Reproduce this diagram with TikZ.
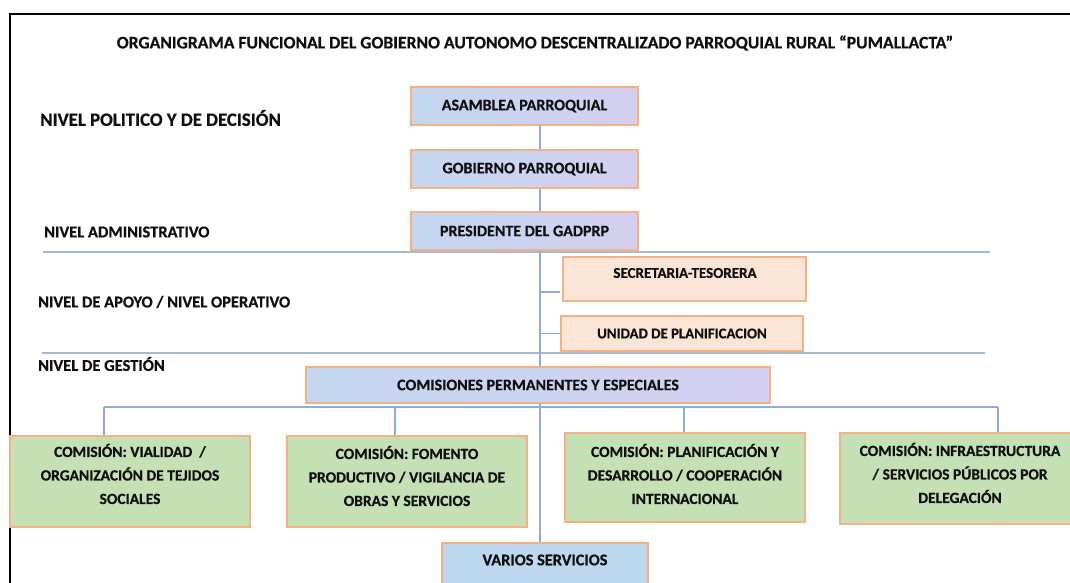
\documentclass[tikz,border=0pt]{standalone}
\usepackage{fontspec}
\setmainfont{Carlito}[BoldFeatures={FakeBold=0.6}]
\usetikzlibrary{calc}
\definecolor{bord}{RGB}{244,177,131}
\definecolor{blueA}{RGB}{196,214,240}
\definecolor{blueB}{RGB}{214,208,240}
\definecolor{peach}{RGB}{251,229,214}
\definecolor{greenF}{RGB}{197,224,180}
\definecolor{blueV}{RGB}{189,215,238}
\definecolor{connC}{RGB}{143,170,220}
\definecolor{sepC}{RGB}{165,185,215}
\definecolor{ink}{RGB}{15,15,15}
\tikzset{
  boxbase/.style={draw=bord, line width=1.8, inner sep=0pt, align=center, text=ink},
  bluebox/.style={boxbase, left color=blueA, right color=blueB, middle color=blueA!60!blueB},
  peachbox/.style={boxbase, fill=peach},
  greenbox/.style={boxbase, fill=greenF, minimum width=240, minimum height=91},
  varbox/.style={boxbase, fill=blueV},
  boxtext/.style={inner sep=0pt, align=center, text=ink},
  gtext/.style={boxtext, font=\bfseries\fontsize{15.5}{23.5}\selectfont},
  conn/.style={draw=connC, line width=1.2},
  sepline/.style={draw=sepC, line width=1.2},
  lvl/.style={anchor=west, inner sep=0pt, text=ink, font=\bfseries\fontsize{16.5}{19}\selectfont},
}
\begin{document}
\begin{tikzpicture}[x=1pt,y=-1pt,font=\bfseries\fontsize{16}{19}\selectfont]
\useasboundingbox (0,0) rectangle (1070,583);
\begin{scope}
\clip (0,0) rectangle (1070,583);
% frame
\draw[line width=2] (9.5,590) -- (9.5,14) -- (1080,14);

% title
\node[inner sep=0pt, text=ink, font=\bfseries\fontsize{17.6}{20}\selectfont] (title) at (535,43)
  {ORGANIGRAMA FUNCIONAL DEL GOBIERNO AUTONOMO DESCENTRALIZADO PARROQUIAL RURAL “PUMALLACTA”};

% level labels
\node[lvl, font=\bfseries\fontsize{18.8}{22}\selectfont] (l1) at (40,118) {NIVEL POLITICO Y DE DECISIÓN};
\node[lvl] (l2) at (44,232) {NIVEL ADMINISTRATIVO};
\node[lvl] (l3) at (38,302) {NIVEL DE APOYO / NIVEL OPERATIVO};
\node[lvl] (l4) at (38,364) {NIVEL DE GESTIÓN};

% separators
\draw[sepline] (43,252) -- (990,252);
\draw[sepline] (42,353) -- (985,353);

% boxes
\node[bluebox, minimum width=227, minimum height=38] (asam) at (524.5,106) {ASAMBLEA PARROQUIAL};
\node[bluebox, minimum width=227, minimum height=38] (gob) at (524.5,169) {GOBIERNO PARROQUIAL};
\node[bluebox, minimum width=227, minimum height=38] (pres) at (524.5,231) {PRESIDENTE DEL GADPRP};
\node[peachbox, minimum width=243, minimum height=44] (sec) at (684.5,279) {};
\node[boxtext, font=\bfseries\fontsize{15}{18}\selectfont] (sect) at (685,273) {SECRETARIA-TESORERA};
\node[peachbox, minimum width=242, minimum height=35, font=\bfseries\fontsize{14.8}{18}\selectfont] (uni) at (682,333.5) {UNIDAD DE PLANIFICACION};
\node[bluebox, minimum width=464, minimum height=36] (com) at (538,385) {COMISIONES PERMANENTES Y ESPECIALES};

\node[greenbox] (g1) at (130,481.5) {};
\node[gtext] (g1t) at (130,474) {COMISIÓN: VIALIDAD~~/\\ORGANIZACIÓN DE TEJIDOS\\SOCIALES};
\node[greenbox] (g2) at (407,481.5) {};
\node[gtext] (g2t) at (407,476) {COMISIÓN: FOMENTO\\PRODUCTIVO / VIGILANCIA DE\\OBRAS Y SERVICIOS};
\node[greenbox, minimum height=89] (g3) at (685,477.5) {};
\node[gtext] (g3t) at (685,474) {COMISIÓN: PLANIFICACIÓN Y\\DESARROLLO / COOPERACIÓN\\INTERNACIONAL};
\node[greenbox] (g4) at (960,478.5) {};
\node[gtext] (g4t) at (960,473) {COMISIÓN: INFRAESTRUCTURA\\/ SERVICIOS PÚBLICOS POR\\DELEGACIÓN};
\node[varbox, minimum width=206, minimum height=44] (var) at (545,565) {};
\node[boxtext, font=\bfseries\fontsize{16.3}{19}\selectfont] (vart) at (545,560) {VARIOS SERVICIOS};

% connectors
\coordinate (spine) at (540,0);
\coordinate (tick) at (560,292);
\coordinate (busL) at (104,407);
\coordinate (busR) at (998,407);
\coordinate (bus2) at (395,407);
\coordinate (bus3) at (684,407);
\draw[conn] (asam.south -| spine) -- (gob.north -| spine);
\draw[conn] (gob.south -| spine) -- (pres.north -| spine);
\draw[conn] (pres.south -| spine) -- (com.north -| spine);
\draw[conn] (com.south -| spine) -- (var.north -| spine);
\draw[conn] (tick -| spine) -- (tick);
\draw[conn] (uni.west -| spine) -- (uni.west);
\draw[conn] (busL) -- (busR);
\draw[conn] (busL) -- (busL |- g1.north);
\draw[conn] (bus2) -- (bus2 |- g2.north);
\draw[conn] (bus3) -- (bus3 |- g3.north);
\draw[conn] (busR) -- (busR |- g4.north);
\end{scope}
\end{tikzpicture}
\end{document}
